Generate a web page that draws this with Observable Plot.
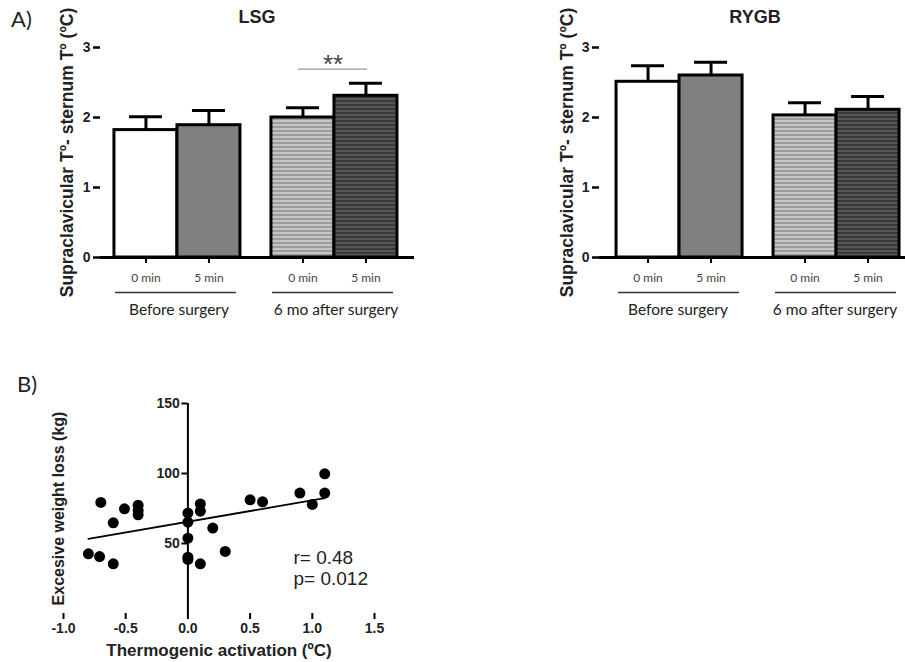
<!DOCTYPE html>
<html><head><meta charset="utf-8">
<script src="https://cdn.jsdelivr.net/npm/d3@7"></script>
<script src="https://cdn.jsdelivr.net/npm/@observablehq/plot@0.6"></script>
<style>
html,body{margin:0;padding:0;background:#fff;overflow:hidden}
#root{position:relative;width:905px;height:662px;overflow:hidden;background:#fff}
.abs{position:absolute}
.panel{font-family:Lato,sans-serif;font-size:22px;line-height:22px;color:#222}
.title{font-family:"Liberation Sans",Arial,sans-serif;font-weight:bold;font-size:18px;line-height:18px;width:200px;text-align:center;color:#222}
</style></head><body><div id="root"></div>
<script>
// ---------- data: panel A ----------
const groups = ["Before surgery", "6 mo after surgery"];
const times = ["0 min", "5 min"];
const barYTicks = [0, 1, 2, 3];
const barYLabel = "Supraclavicular Tº- sternum Tº (ºC)";
const lsgTitle = "LSG";
const rygbTitle = "RYGB";
const lsgMean = [1.82, 1.89, 2.00, 2.31];
const lsgSem  = [0.19, 0.21, 0.14, 0.18];
const rygbMean = [2.51, 2.60, 2.03, 2.11];
const rygbSem  = [0.23, 0.19, 0.18, 0.19];
const lsgSigGroup = ["6 mo after surgery"];
const lsgSigY = [2.69];
const lsgSigLabel = ["**"];

// ---------- data: panel B ----------
const thermo = [-0.80, -0.71, -0.60, -0.70, -0.60, -0.51, -0.40, -0.40, -0.40,
                0.00, 0.00, 0.00, 0.00, 0.00, 0.10, 0.10, 0.10, 0.20, 0.30,
                0.50, 0.60, 0.90, 1.00, 1.10, 1.10];
const ewl = [42.6, 40.7, 35.5, 79.3, 64.8, 74.8, 77.4, 73.6, 70.5,
             71.7, 65.2, 53.8, 40.2, 38.6, 78.3, 73.1, 35.5, 61.0, 44.3,
             81.2, 79.8, 86.0, 77.9, 99.8, 86.0];
const fitX = [-0.8, 1.1];
const fitY = [53.3, 82.4];
const scXTicks = [-1, -0.5, 0, 0.5, 1, 1.5];
const scYTicks = [50, 100, 150];
const scXLabel = "Thermogenic activation (ºC)";
const scYLabel = "Excesive weight loss (kg)";
const statsText = ["r= 0.48", "p= 0.012"];

// ---------- styles ----------
const FONT = "'Liberation Sans', Arial, sans-serif";
const FILLS = ["#ffffff", "#808080", "url(#stripeLight)", "url(#stripeDark)"];

const root = document.getElementById("root");

function place(el, left, top) {
  el.classList.add("abs");
  el.style.left = left + "px";
  el.style.top = top + "px";
  root.appendChild(el);
}
function addDiv(cls, text, left, top) {
  const d = document.createElement("div");
  d.className = cls;
  d.textContent = text;
  place(d, left, top);
}

function addPatterns(svg) {
  const ns = "http://www.w3.org/2000/svg";
  const defs = document.createElementNS(ns, "defs");
  const specs = [["stripeLight", "#c6c6c6", "#9c9c9c"], ["stripeDark", "#3a3a3a", "#575757"]];
  for (const [id, base, stripe] of specs) {
    const p = document.createElementNS(ns, "pattern");
    p.setAttribute("id", id);
    p.setAttribute("patternUnits", "userSpaceOnUse");
    p.setAttribute("width", 4);
    p.setAttribute("height", 4);
    const r1 = document.createElementNS(ns, "rect");
    r1.setAttribute("width", 4); r1.setAttribute("height", 4); r1.setAttribute("fill", base);
    const r2 = document.createElementNS(ns, "rect");
    r2.setAttribute("y", 2); r2.setAttribute("width", 4); r2.setAttribute("height", 2); r2.setAttribute("fill", stripe);
    p.appendChild(r1); p.appendChild(r2);
    defs.appendChild(p);
  }
  svg.insertBefore(defs, svg.firstChild);
}

function barChart(means, sems, cfg, sig) {
  const data = [];
  groups.forEach((g, gi) => times.forEach((t, ti) => {
    const k = gi * times.length + ti;
    data.push({group: g, time: t, mean: means[k], sem: sems[k], fill: FILLS[k]});
  }));
  const marks = [
    Plot.ruleX(data, {fx: "group", x: "time", y1: "mean", y2: d => d.mean + d.sem, stroke: "black", strokeWidth: 3}),
    Plot.tickY(data, {fx: "group", x: "time", y: d => d.mean + d.sem, insetLeft: 15, insetRight: 15, stroke: "black", strokeWidth: 3}),
    Plot.barY(data, {fx: "group", x: "time", y: "mean", fill: "fill", stroke: "black", strokeWidth: 3}),
    Plot.ruleY([0], {stroke: "black", strokeWidth: 3}),
    Plot.ruleY([0], {dy: 35, insetLeft: cfg.ulL, insetRight: cfg.ulR, stroke: "#333", strokeWidth: 1.3}),
    Plot.axisY({ticks: barYTicks, tickFormat: d => String(d), tickSize: 7, tickPadding: 3, line: true, stroke: "black", strokeWidth: 2.5,
      fontSize: 14, fontWeight: "bold", fill: "#222", label: null}),
    Plot.text([{group: groups[0], label: barYLabel}], {fx: "group", text: "label", frameAnchor: "left", rotate: -90,
      textAnchor: "middle", lineAnchor: "middle", dx: cfg.labelDx, fontSize: 17.5, fontWeight: "bold", fill: "#222"}),
    Plot.axisX({tickSize: 6, tickPadding: 10, stroke: "black", strokeWidth: 2, fontSize: 12, fontFamily: "Lato, sans-serif", fill: "#444", label: null}),
    Plot.axisFx({anchor: "bottom", tickSize: 0, tickPadding: 46, fontSize: 15.5, fontFamily: "Lato, sans-serif", fill: "#222", label: null})
  ];
  if (sig) {
    const sd = sig.groups.map((g, i) => ({group: g, y: sig.y[i], label: sig.label[i]}));
    marks.push(Plot.ruleY(sd, {fx: "group", y: "y", insetLeft: 41, insetRight: 47, stroke: "#999", strokeWidth: 1.3}));
    marks.push(Plot.text(sd, {fx: "group", y: "y", text: "label", dx: -3, dy: -5, fontSize: 26, fill: "#444", lineAnchor: "middle"}));
  }
  const svg = Plot.plot({
    width: 420, height: 330,
    marginLeft: cfg.ml, marginRight: cfg.mr, marginTop: 47, marginBottom: 73,
    style: {fontFamily: FONT, background: "transparent", overflow: "visible"},
    fx: {domain: groups, paddingInner: 0, paddingOuter: 0, round: false, label: null},
    x: {domain: times, paddingInner: 0, paddingOuter: 0.246, align: cfg.align, round: false, label: null},
    y: {domain: [0, 3], label: null},
    color: {type: "identity"},
    marks
  });
  addPatterns(svg);
  return svg;
}

// Panel A
addDiv("panel", "A)", 11, 8);
addDiv("title", lsgTitle, 257 - 100, 8);
addDiv("title", rygbTitle, 755 - 100, 8);
place(barChart(lsgMean, lsgSem, {ml: 100, mr: 6, align: 0.45, ulL: 15, ulR: 21, labelDx: -33},
  {groups: lsgSigGroup, y: lsgSigY, label: lsgSigLabel}), 0, 0);
place(barChart(rygbMean, rygbSem, {ml: 99, mr: 7, align: 0.55, ulL: 19, ulR: 17, labelDx: -32}, null), 500, 0);

// Panel B
addDiv("panel", "B)", 17, 373);
const SC = {w: 420, h: 292, ml: 63, mr: 46, mt: 33, mb: 49};
const scXDomain = [-1, 1.5];
const xs = Plot.scale({x: {domain: scXDomain, range: [SC.ml, SC.w - SC.mr]}});
const yAxisShift = xs.apply(0) - SC.ml;
const pts = thermo.map((t, i) => ({t, e: ewl[i]}));
const fit = fitX.map((x, i) => ({x, y: fitY[i]}));
const scatter = Plot.plot({
  width: SC.w, height: SC.h, marginLeft: SC.ml, marginRight: SC.mr, marginTop: SC.mt, marginBottom: SC.mb,
  style: {fontFamily: FONT, background: "transparent", overflow: "visible"},
  x: {domain: scXDomain},
  y: {domain: [0, 150]},
  marks: [
    Plot.axisX({ticks: scXTicks, tickFormat: d => d.toFixed(1), line: true, tickSize: 6, tickPadding: 4,
      stroke: "black", strokeWidth: 2, fontSize: 14, fontWeight: "bold", fill: "#222", label: null}),
    Plot.text([scXLabel], {text: d => d, frameAnchor: "bottom", textAnchor: "middle", lineAnchor: "bottom", dy: 42,
      fontSize: 17, fontWeight: "bold", fill: "#222"}),
    Plot.ruleX([0], {stroke: "black", strokeWidth: 2}),
    Plot.axisY({ticks: scYTicks, dx: yAxisShift, tickSize: 6, tickPadding: 2, stroke: "black", strokeWidth: 2,
      fontSize: 14, fontWeight: "bold", fill: "#222", label: null}),
    Plot.text([scYLabel], {text: d => d, frameAnchor: "left", rotate: -90, textAnchor: "middle", lineAnchor: "middle",
      dx: -5, fontSize: 16, fontWeight: "bold", fill: "#222"}),
    Plot.line(fit, {x: "x", y: "y", stroke: "black", strokeWidth: 1.8}),
    Plot.dot(pts, {x: "t", y: "e", r: 5.5, fill: "black", stroke: "none"}),
    Plot.text([statsText.join("\n")], {text: d => d, frameAnchor: "bottom-right", textAnchor: "start", lineAnchor: "bottom",
      dx: -81, dy: -29, fontSize: 19, lineHeight: 1.1, fill: "#222"})
  ]
});
place(scatter, 0, 370);
</script></body></html>
